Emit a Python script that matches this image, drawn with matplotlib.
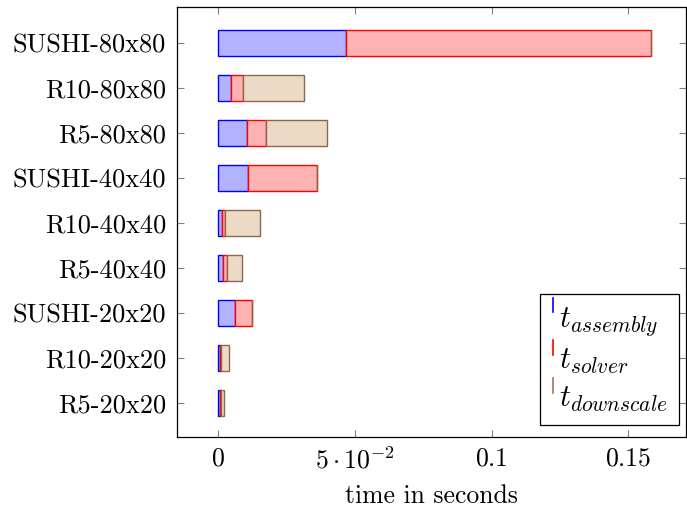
import matplotlib.pyplot as plt
from matplotlib.lines import Line2D
from matplotlib.legend_handler import HandlerBase

plt.rcParams['font.family'] = 'serif'
plt.rcParams['font.serif'] = ['cmr10']
plt.rcParams['mathtext.fontset'] = 'cm'
plt.rcParams['axes.unicode_minus'] = False

# bottom to top
labels = ['R5-20x20', 'R10-20x20', 'SUSHI-20x20', 'R5-40x40', 'R10-40x40',
          'SUSHI-40x40', 'R5-80x80', 'R10-80x80', 'SUSHI-80x80']
t_assembly = [0.0005, 0.0007, 0.0061, 0.0018, 0.0015, 0.0109, 0.0105, 0.0047, 0.0466]
t_solver = [0.0005, 0.0004, 0.0061, 0.0015, 0.0011, 0.0254, 0.0068, 0.0043, 0.1117]
t_downscale = [0.0012, 0.0028, 0.0, 0.0054, 0.0126, 0.0, 0.0224, 0.0222, 0.0]


class VBarHandler(HandlerBase):
    # pgfplots-like small vertical bar, drawn above the text centre
    def create_artists(self, legend, orig_handle, xdescent, ydescent,
                       width, height, fontsize, trans):
        x = 0.5 * width - xdescent
        y0 = 0.5 * height - ydescent + 2.5
        ln = Line2D([x, x], [y0, y0 + 10.5], color=orig_handle.get_color(),
                    lw=1.2, transform=trans)
        return [ln]


fig = plt.figure(figsize=(6.87, 5.14), dpi=100)
ax = fig.add_axes([0.2576, 0.1498, 0.741, 0.8366])

y = range(len(labels))
h = 0.59
left1 = t_assembly
left2 = [a + s for a, s in zip(t_assembly, t_solver)]
ax.barh(y, t_assembly, height=h, color='#b2b2ff', edgecolor='blue', linewidth=1)
ax.barh(y, t_solver, left=left1, height=h, color='#ffb2b2', edgecolor='red', linewidth=1)
ax.barh(y, t_downscale, left=left2, height=h, color='#ecd9c6', edgecolor='#8a6a48', linewidth=1)

ax.set_xlim(-0.0151, 0.1711)
ax.set_ylim(-0.76, 8.8)
ax.set_yticks(list(y))
ax.set_yticklabels(labels, fontsize=19)
ax.set_xticks([0, 0.05, 0.1, 0.15])
ax.set_xticklabels(['$0$', r'$5\cdot10^{-2}$', '$0.1$', '$0.15$'], fontsize=18.5)
ax.tick_params(direction='in', top=True, right=True, length=5, color='#808080', width=0.8)
ax.tick_params(axis='y', pad=8)
ax.tick_params(axis='x', pad=7)
ax.set_xlabel('time in seconds', fontsize=18.5, labelpad=8)
for s in ax.spines.values():
    s.set_linewidth(0.9)

handles = [Line2D([], [], color=c) for c in ['blue', 'red', '#a0785a']]
leg = ax.legend(handles, ['$t_{assembly}$', '$t_{solver}$', '$t_{downscale}$'],
                handler_map={Line2D: VBarHandler()},
                loc='lower right', bbox_to_anchor=(0.986, 0.028),
                fontsize=22, fancybox=False, edgecolor='black',
                handlelength=0.2, handletextpad=0.1, labelspacing=0.3,
                borderpad=0.35, borderaxespad=0, framealpha=1)
leg.get_frame().set_linewidth(0.9)

plt.savefig('out.png', dpi=100)
